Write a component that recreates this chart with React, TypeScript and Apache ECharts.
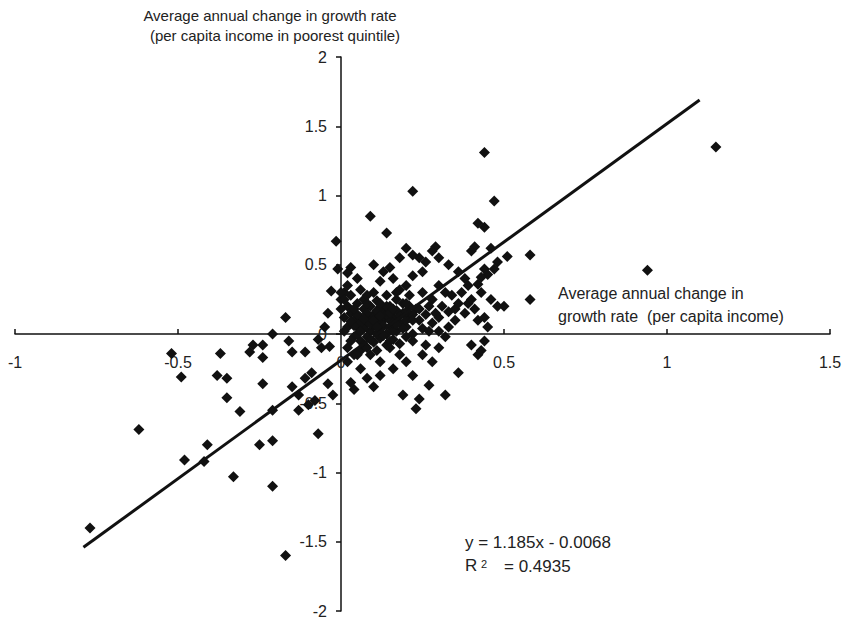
import React, { useEffect, useRef } from "react";
import * as echarts from "echarts";

const xTicks = { min: -1, max: 1.5, interval: 0.5 };
const yTicks = { min: -2, max: 2, interval: 0.5 };

const yTitle = ["Average annual change in growth rate", "(per capita income in poorest quintile)"];
const xTitle = ["Average annual change in", "growth rate  (per capita income)"];
const equation = "y = 1.185x - 0.0068";
const rSquared = "= 0.4935";

// trend line end points, as drawn in the picture
const trendX = [-0.79, 1.1];
const trendY = [-1.54, 1.69];

const leftPoints: [number, number][] = [
  [-0.77, -1.4], [-0.62, -0.69], [-0.52, -0.14], [-0.49, -0.31], [-0.48, -0.91],
  [-0.42, -0.92], [-0.41, -0.8], [-0.38, -0.3], [-0.37, -0.14], [-0.35, -0.32],
  [-0.35, -0.46], [-0.31, -0.56], [-0.33, -1.03], [-0.25, -0.8], [-0.24, -0.36],
  [-0.24, -0.17], [-0.24, -0.08], [-0.21, -0.55], [-0.21, -1.1], [-0.21, -0.77],
  [-0.21, 0.0], [-0.17, -1.6], [-0.17, 0.12], [-0.16, -0.05], [-0.15, -0.13],
  [-0.15, -0.38], [-0.13, -0.55], [-0.13, -0.44], [-0.11, -0.32], [-0.11, -0.13],
  [-0.1, -0.51], [-0.09, -0.28], [-0.08, -0.48], [-0.07, -0.72], [-0.07, -0.04],
  [-0.06, -0.1], [-0.05, 0.05], [-0.04, 0.15], [-0.03, 0.31], [-0.01, 0.47],
  [-0.015, 0.67], [-0.025, -0.44], [-0.035, -0.09], [-0.04, -0.36], [-0.27, -0.08],
  [-0.28, -0.13],
];

const clusterPoints: [number, number][] = [
  [0.02, 0.2], [0.03, 0.15], [0.04, 0.1], [0.05, 0.05], [0.06, 0.12], [0.07, 0.18],
  [0.08, 0.08], [0.09, 0.02], [0.1, 0.06], [0.11, 0.12], [0.12, 0.04], [0.13, 0.1],
  [0.14, 0.0], [0.15, 0.05], [0.16, 0.12], [0.17, 0.02], [0.18, 0.08], [0.19, 0.15],
  [0.2, 0.05], [0.21, 0.12], [0.22, 0.0], [0.23, 0.18], [0.05, 0.22], [0.07, 0.25],
  [0.09, 0.2], [0.11, 0.24], [0.13, 0.18], [0.15, 0.2], [0.17, 0.25], [0.19, 0.22],
  [0.21, 0.28], [0.03, 0.28], [0.06, 0.32], [0.1, 0.3], [0.14, 0.28], [0.18, 0.32],
  [0.02, 0.05], [0.04, -0.02], [0.06, -0.05], [0.08, -0.02], [0.1, -0.06], [0.12, -0.03],
  [0.14, -0.08], [0.16, -0.04], [0.18, -0.07], [0.2, -0.02], [0.07, 0.04], [0.09, 0.11],
  [0.11, 0.0], [0.13, 0.15], [0.12, 0.08], [0.1, 0.14], [0.08, 0.15], [0.06, 0.08],
  [0.05, 0.0], [0.04, 0.06], [0.15, 0.1], [0.16, 0.02], [0.14, 0.14], [0.01, 0.12],
  [0.0, 0.18], [0.01, 0.02], [0.24, 0.1], [0.26, 0.14], [0.25, 0.04], [0.27, 0.02],
  [0.29, 0.15], [0.31, 0.2], [0.33, 0.16], [0.35, 0.18], [0.37, 0.3], [0.39, 0.22],
  [0.41, 0.18], [0.3, 0.02], [0.32, -0.02], [0.02, -0.1], [0.04, -0.15], [0.06, -0.12],
  [0.09, -0.15], [0.11, -0.12], [0.0, 0.25], [0.01, 0.3], [0.02, 0.35],
  [0.03, 0.09], [0.05, 0.14], [0.07, 0.11], [0.08, 0.22], [0.09, 0.07], [0.1, 0.1],
  [0.11, 0.17], [0.12, 0.13], [0.13, 0.06], [0.14, 0.2], [0.15, 0.15], [0.16, 0.08],
  [0.17, 0.17], [0.18, 0.13], [0.19, 0.04], [0.2, 0.1], [0.21, 0.2], [0.22, 0.14],
  [0.07, -0.08], [0.09, -0.04], [0.11, 0.05], [0.13, -0.01], [0.15, -0.05], [0.17, 0.07],
  [0.04, 0.18], [0.06, 0.02], [0.08, 0.28], [0.12, 0.22], [0.16, 0.18], [0.2, 0.16],
];

const upperRightPoints: [number, number][] = [
  [0.09, 0.85], [0.22, 1.03], [0.14, 0.73], [0.44, 1.31], [0.47, 0.96],
  [0.58, 0.57], [0.58, 0.25], [0.51, 0.56], [0.42, 0.8], [0.44, 0.77],
  [0.41, 0.63], [0.4, 0.6], [0.46, 0.62], [0.48, 0.52], [0.47, 0.47],
  [0.45, 0.43], [0.44, 0.47], [0.43, 0.41], [0.42, 0.36], [0.39, 0.35],
  [0.38, 0.4], [0.36, 0.45], [0.33, 0.5], [0.3, 0.55], [0.29, 0.63],
  [0.28, 0.6], [0.26, 0.52], [0.25, 0.45], [0.24, 0.55], [0.22, 0.57],
  [0.2, 0.62], [0.18, 0.55], [0.16, 0.4], [0.15, 0.48], [0.13, 0.45],
  [0.1, 0.5], [0.05, 0.4], [0.03, 0.48], [0.02, 0.44], [0.0, 0.3],
  [0.01, 0.25], [0.12, 0.38], [0.17, 0.3], [0.2, 0.35], [0.22, 0.42],
  [0.25, 0.3], [0.28, 0.25], [0.3, 0.35], [0.32, 0.3], [0.34, 0.28],
  [0.36, 0.22], [0.4, 0.25], [0.43, 0.3], [0.46, 0.25], [0.48, 0.2],
  [0.5, 0.2], [0.44, 0.12], [0.45, 0.05], [0.42, 0.1], [0.38, 0.15],
  [0.35, 0.1], [0.33, 0.05], [0.3, 0.12], [0.28, 0.08], [0.27, 0.2],
  [0.24, 0.18], [0.22, 0.1], [0.2, 0.22],
];

const lowerRightPoints: [number, number][] = [
  [0.23, -0.54], [0.1, -0.38], [0.12, -0.3], [0.08, -0.32], [0.06, -0.25],
  [0.04, -0.4], [0.03, -0.35], [0.02, -0.2], [0.16, -0.25], [0.18, -0.15],
  [0.2, -0.2], [0.22, -0.3], [0.24, -0.47], [0.27, -0.37], [0.28, -0.2],
  [0.3, -0.1], [0.32, -0.44], [0.36, -0.28], [0.4, -0.08], [0.42, -0.15],
  [0.44, -0.05], [0.43, -0.12], [0.26, -0.08], [0.22, -0.05], [0.15, -0.1],
  [0.12, -0.2], [0.08, -0.1], [0.05, -0.15], [0.03, -0.05], [0.25, -0.15],
  [0.19, -0.44],
];

const outlierPoints: [number, number][] = [
  [1.15, 1.35], [0.94, 0.46],
];

const FONT = "'Liberation Sans', Arial, sans-serif";
const TEXT = "#222";

const GRID = { left: 15, right: 19, top: 57, bottom: 7 };
const W = 849;
const H = 618;

export default function App() {
  const ref = useRef<HTMLDivElement>(null);
  useEffect(() => {
    if (!ref.current) return;
    const chart = echarts.init(ref.current, undefined, { renderer: "svg" });
    const allPoints = [
      ...leftPoints,
      ...clusterPoints,
      ...upperRightPoints,
      ...lowerRightPoints,
      ...outlierPoints,
    ];
    const gw = W - GRID.left - GRID.right;
    const gh = H - GRID.top - GRID.bottom;
    // shift axes so they cross at (0, 0)
    const xOffset = -gh * ((0 - yTicks.min) / (yTicks.max - yTicks.min));
    const yOffset = -gw * ((0 - xTicks.min) / (xTicks.max - xTicks.min));
    chart.setOption({
      animation: false,
      backgroundColor: "#fff",
      grid: { ...GRID, containLabel: false, outerBoundsMode: "none" },
      xAxis: {
        type: "value",
        position: "bottom",
        offset: xOffset,
        min: xTicks.min,
        max: xTicks.max,
        interval: xTicks.interval,
        axisLine: { onZero: false, lineStyle: { color: "#111", width: 1.5 } },
        axisTick: { inside: true, length: 5, lineStyle: { color: "#111", width: 1.5 } },
        axisLabel: {
          margin: 20,
          color: TEXT,
          fontSize: 16,
          fontFamily: FONT,
          showMinLabel: true,
          showMaxLabel: true,
        },
        splitLine: { show: false },
      },
      yAxis: {
        type: "value",
        position: "left",
        offset: yOffset,
        min: yTicks.min,
        max: yTicks.max,
        interval: yTicks.interval,
        axisLine: { onZero: false, lineStyle: { color: "#111", width: 1.5 } },
        axisTick: { inside: false, length: 5, lineStyle: { color: "#111", width: 1.5 } },
        axisLabel: {
          margin: 14,
          color: TEXT,
          fontSize: 16,
          fontFamily: FONT,
          showMinLabel: true,
          showMaxLabel: true,
        },
        splitLine: { show: false },
      },
      series: [
        {
          type: "scatter",
          data: allPoints,
          symbol: "diamond",
          symbolSize: 11,
          itemStyle: { color: "#111", opacity: 1 },
          z: 3,
        },
        {
          type: "line",
          data: trendX.map((x, i) => [x, trendY[i]]),
          symbol: "none",
          lineStyle: { color: "#111", width: 3 },
          z: 4,
        },
      ],
      graphic: [
        {
          type: "text",
          x: 270,
          y: 15,
          style: { text: yTitle[0], fill: TEXT, font: `15px ${FONT}`, textAlign: "center", textVerticalAlign: "middle" },
        },
        {
          type: "text",
          x: 275,
          y: 35,
          style: { text: yTitle[1], fill: TEXT, font: `15px ${FONT}`, textAlign: "center", textVerticalAlign: "middle" },
        },
        {
          type: "text",
          x: 558,
          y: 293,
          style: { text: xTitle[0], fill: TEXT, font: `16px ${FONT}`, textAlign: "left", textVerticalAlign: "middle" },
        },
        {
          type: "text",
          x: 558,
          y: 316,
          style: { text: xTitle[1], fill: TEXT, font: `16px ${FONT}`, textAlign: "left", textVerticalAlign: "middle" },
        },
        {
          type: "text",
          x: 465,
          y: 542,
          style: { text: equation, fill: TEXT, font: `17px ${FONT}`, textAlign: "left", textVerticalAlign: "middle" },
        },
        {
          type: "text",
          x: 465,
          y: 565,
          style: { text: "R", fill: TEXT, font: `17px ${FONT}`, textAlign: "left", textVerticalAlign: "middle" },
        },
        {
          type: "text",
          x: 481,
          y: 564,
          style: { text: "2", fill: TEXT, font: `11px ${FONT}`, textAlign: "left", textVerticalAlign: "middle" },
        },
        {
          type: "text",
          x: 504,
          y: 566,
          style: { text: rSquared, fill: TEXT, font: `17px ${FONT}`, textAlign: "left", textVerticalAlign: "middle" },
        },
      ],
    });
    return () => chart.dispose();
  }, []);
  return (
    <div
      ref={ref}
      style={{ position: "fixed", left: 0, top: 0, width: W, height: H }}
    />
  );
}
